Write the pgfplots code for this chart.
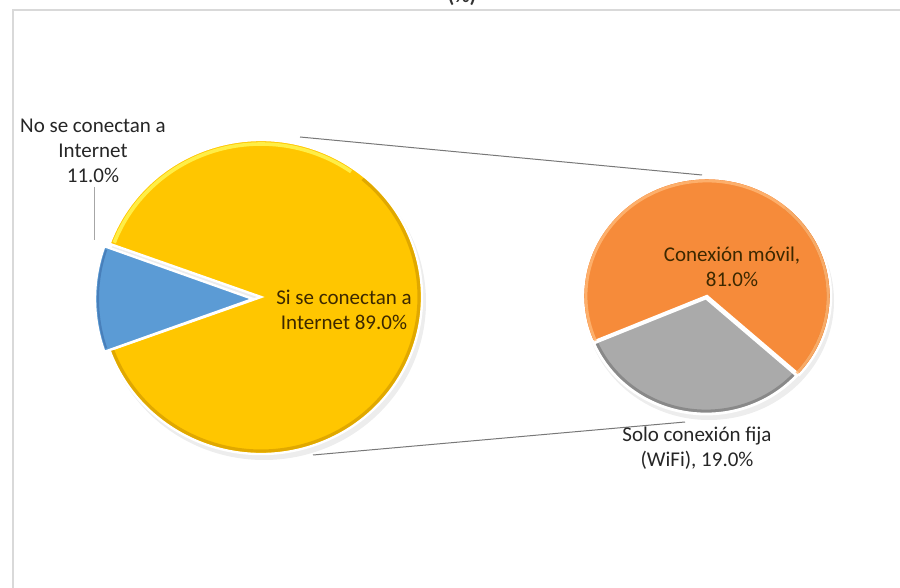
\documentclass[border=0pt]{standalone}
\usepackage{pgfplots}
\pgfplotsset{compat=1.18}
\usepackage{fontspec}
\setmainfont{Carlito}
\definecolor{pieYellow}{RGB}{255,198,0}
\definecolor{pieYellowHi}{RGB}{255,238,70}
\definecolor{pieYellowDk}{RGB}{200,145,0}
\definecolor{pieBlue}{RGB}{91,155,213}
\definecolor{pieBlueHi}{RGB}{160,200,240}
\definecolor{pieBlueDk}{RGB}{55,100,160}
\definecolor{pieOrange}{RGB}{246,139,58}
\definecolor{pieOrangeHi}{RGB}{255,185,120}
\definecolor{pieOrangeDk}{RGB}{190,95,25}
\definecolor{pieGray}{RGB}{170,170,170}
\definecolor{pieGrayHi}{RGB}{235,235,235}
\definecolor{pieGrayDk}{RGB}{115,115,115}
\definecolor{borderGray}{RGB}{217,217,217}
\definecolor{lineGray}{RGB}{120,120,120}
\definecolor{inText}{RGB}{60,40,0}

% ---- data (percent) ----
\def\NoPct{11.0}   % No se conectan a Internet
\def\SiPct{89.0}   % Si se conectan a Internet
\def\MovilPct{81.0}
\def\FijaPct{19.0}
% share of the second pie as drawn in the reference
\def\FijaDraw{32}

\pgfmathsetmacro\bA{180-\NoPct*1.8}
\pgfmathsetmacro\bB{180+\NoPct*1.8}
\pgfmathsetmacro\yA{\bB}
\pgfmathsetmacro\yB{\bA+360}
\pgfmathsetmacro\gA{260.5-\FijaDraw*1.8}
\pgfmathsetmacro\gB{260.5+\FijaDraw*1.8}
\pgfmathsetmacro\oA{\gB}
\pgfmathsetmacro\oB{\gA+360}

% slice: cx cy rx ry a1 a2 style  (pixel units, 1px = 0.5pt)
\newcommand{\slice}[7]{%
  \path[#7] (axis cs:#1,#2) -- ++(#5:{#3*0.5pt} and {#4*0.5pt})
    arc[start angle=#5, end angle=#6, x radius={#3*0.5pt}, y radius={#4*0.5pt}] -- cycle;}
\newcommand{\rim}[7]{%
  \path[#7] (axis cs:#1,#2) ++(#5:{#3*0.5pt} and {#4*0.5pt})
    arc[start angle=#5, end angle=#6, x radius={#3*0.5pt}, y radius={#4*0.5pt}];}

\begin{document}
\begin{tikzpicture}
\useasboundingbox (0,0) rectangle (450pt,294pt);
\clip (0,0) rectangle (450pt,294pt);
\fill[white] (0,0) rectangle (450pt,294pt);
\begin{axis}[hide axis, scale only axis, width=450pt, height=294pt,
  xmin=0, xmax=900, ymin=0, ymax=588, y dir=reverse, clip=false,
  at={(0,0)}, anchor=south west]
\addplot[draw=none] coordinates {(0,0) (900,588)};
% chart border
\draw[borderGray, line width=0.7pt] (axis cs:13,620) -- (axis cs:13,10) -- (axis cs:920,10);
% title (cut)
\node[font=\fontsize{10.5pt}{12pt}\selectfont\bfseries, text=black!80] at (axis cs:462,-4) {(\%)};

% shadows
\slice{264}{302}{162}{158}{0}{360}{fill=black, opacity=0.07}
\slice{709}{301}{125}{119}{0}{360}{fill=black, opacity=0.07}

% connector lines
\draw[lineGray, line width=0.5pt] (axis cs:300,137) -- (axis cs:702,175);
\draw[lineGray, line width=0.5pt] (axis cs:313,455) -- (axis cs:685,422);
% leader line
\draw[black!35, line width=0.5pt] (axis cs:94,187) -- (axis cs:94,240);

% big pie
\slice{261}{297}{161}{157}{\yA}{\yB}{fill=pieYellow, draw=white, line width=1.2pt}
\rim{261}{297}{158}{154}{200}{410}{draw=pieYellowDk, line width=1.6pt, opacity=0.55}
\rim{261}{297}{157}{153}{55}{\bA-1}{draw=pieYellowHi, line width=1.8pt}
\slice{253}{299}{158}{156}{\bA}{\bB}{fill=pieBlue, draw=white, line width=1.2pt}
\rim{253}{299}{155}{153}{\bA+1}{\bB-1}{draw=pieBlueDk, line width=1pt, opacity=0.5}

% small pie
\slice{707}{296}{124}{118}{\oA}{\oB}{fill=pieOrange, draw=white, line width=1.2pt}
\rim{707}{296}{121}{115}{\oA+1}{410}{draw=pieOrangeDk, line width=1.4pt, opacity=0.55}
\rim{707}{296}{121}{115}{60}{\oB-1}{draw=pieOrangeHi, line width=1.4pt, opacity=0.8}
\slice{706}{298}{122}{116}{\gA}{\gB}{fill=pieGray, draw=white, line width=1.4pt}
\rim{706}{298}{119}{113}{\gA+1}{\gB-1}{draw=pieGrayDk, line width=1.4pt, opacity=0.6}

% labels
\node[align=center, font=\fontsize{10.5pt}{12.5pt}\selectfont, text=black!85] at (axis cs:93,151) {No se conectan a\\Internet\\11.0\%};
\node[align=center, font=\fontsize{10.5pt}{12.5pt}\selectfont, text=inText] at (axis cs:344,310) {Si se conectan a\\Internet 89.0\%};
\node[align=center, font=\fontsize{10.5pt}{12.5pt}\selectfont, text=inText] at (axis cs:732,267) {Conexión móvil,\\81.0\%};
\node[align=center, font=\fontsize{10.5pt}{12.5pt}\selectfont, text=black!85] at (axis cs:697,448) {Solo conexión fija\\(WiFi), 19.0\%};
\end{axis}
\end{tikzpicture}
\end{document}
